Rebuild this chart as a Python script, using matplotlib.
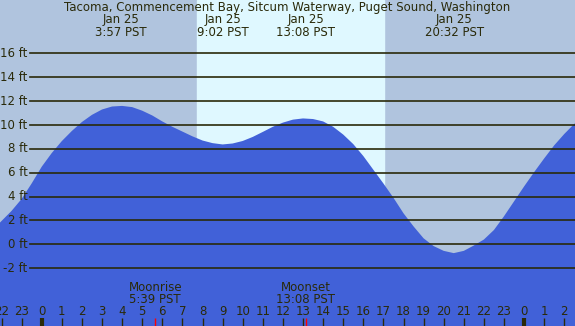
import matplotlib
matplotlib.use("Agg")
import matplotlib.pyplot as plt

# ---- data (hours relative to midnight starting Jan 25) ----
hours = [-2.5, -2.0, -1.5, -1.0, -0.5, 0.0, 0.5, 1.0, 1.5, 2.0, 2.5, 3.0, 3.5, 4.0,
         4.5, 5.0, 5.5, 6.0, 6.5, 7.0, 7.5, 8.0, 8.5, 9.0, 9.5, 10.0, 10.5, 11.0,
         11.5, 12.0, 12.5, 13.0, 13.5, 14.0, 14.5, 15.0, 15.5, 16.0, 16.5, 17.0,
         17.5, 18.0, 18.5, 19.0, 19.5, 20.0, 20.5, 21.0, 21.5, 22.0, 22.5, 23.0,
         23.5, 24.0, 24.5, 25.0, 25.5, 26.0, 26.5, 27.0]
tide_ft = [1.1, 1.95, 2.8, 3.8, 5.1, 6.5, 7.65, 8.65, 9.5, 10.25, 10.85, 11.3, 11.55, 11.6,
           11.5, 11.2, 10.8, 10.3, 9.85, 9.45, 9.05, 8.7, 8.48, 8.37, 8.45, 8.66, 9.0, 9.42,
           9.85, 10.2, 10.45, 10.55, 10.5, 10.3, 9.85, 9.2, 8.4, 7.4, 6.25, 5.1,
           3.9, 2.6, 1.5, 0.5, -0.15, -0.55, -0.74, -0.55, -0.1, 0.4, 1.2, 2.35,
           3.6, 4.85, 6.05, 7.2, 8.3, 9.25, 10.1, 10.8]

title = "Tacoma, Commencement Bay, Sitcum Waterway, Puget Sound, Washington"
ext_hours = [3.95, 9.033, 13.133, 20.533]
ext_dates = ["Jan 25", "Jan 25", "Jan 25", "Jan 25"]
ext_times = ["3:57 PST", "9:02 PST", "13:08 PST", "20:32 PST"]

sunrise_h = 7.73
sunset_h = 17.03

moon_hours = [5.65, 13.133]
moon_names = ["Moonrise", "Moonset"]
moon_times = ["5:39 PST", "13:08 PST"]

y_ticks = [-2, 0, 2, 4, 6, 8, 10, 12, 14, 16]
hour_ticks = list(range(-2, 27))
hour_labels = [str(h % 24) for h in hour_ticks]

# ---- style ----
W, H = 575, 326
night = "#B0C4DE"
day = "#DFF8FF"
water = "#4161D8"
ink = "#2a2a0a"
fs = 8.5
plt.rcParams["font.family"] = ["DejaVu Sans"]

fig = plt.figure(figsize=(W / 100, H / 100), dpi=100)
ax = fig.add_axes([0, 0, 1, 1])
x0_px, px_per_h = 41.7, 20.1
y0_px, px_per_ft = 244.3, 11.93
xmin = -x0_px / px_per_h
xmax = (W - x0_px) / px_per_h
ymax = y0_px / px_per_ft
ymin = (y0_px - H) / px_per_ft
ax.set_xlim(xmin, xmax)
ax.set_ylim(ymin, ymax)
ax.axis("off")
ax.set_facecolor(night)
fig.patch.set_facecolor(night)

ax.axvspan(sunrise_h, sunset_h, color=day, zorder=0)
ax.fill_between(hours, tide_ft, ymin - 5, color=water, lw=0, zorder=1)

for v in y_ticks:
    ax.axhline(v, xmin=29.5 / W, xmax=1, color=ink, lw=1.2, zorder=2)
    ax.text(27.5 / W, v, f"{v} ft", transform=ax.get_yaxis_transform(),
            ha="right", va="center", fontsize=fs, color=ink, zorder=3)

ax.text(0.5, 1 - 8 / H, title, transform=ax.transAxes, ha="center", va="center",
        fontsize=fs, color=ink)
for h, d, t in zip(ext_hours, ext_dates, ext_times):
    ax.text(h, 1 - 20 / H, d, transform=ax.get_xaxis_transform(), ha="center",
            va="center", fontsize=fs, color=ink)
    ax.text(h, 1 - 32 / H, t, transform=ax.get_xaxis_transform(), ha="center",
            va="center", fontsize=fs, color=ink)

for h, n, t in zip(moon_hours, moon_names, moon_times):
    ax.text(h, 1 - 287.5 / H, n, transform=ax.get_xaxis_transform(), ha="center",
            va="center", fontsize=fs, color=ink)
    ax.text(h, 1 - 299.5 / H, t, transform=ax.get_xaxis_transform(), ha="center",
            va="center", fontsize=fs, color=ink)
    ax.vlines(h, 0, 8 / H, transform=ax.get_xaxis_transform(), color="red", lw=1, zorder=4)

for h, lab in zip(hour_ticks, hour_labels):
    ax.text(h, 1 - 311.5 / H, lab, transform=ax.get_xaxis_transform(), ha="center",
            va="center", fontsize=fs, color=ink)
    lw = 3 if h % 24 == 0 else 1
    ax.vlines(h, 0, 8 / H, transform=ax.get_xaxis_transform(), color=ink, lw=lw, zorder=3)

fig.savefig("out.png", dpi=100, facecolor=night)
